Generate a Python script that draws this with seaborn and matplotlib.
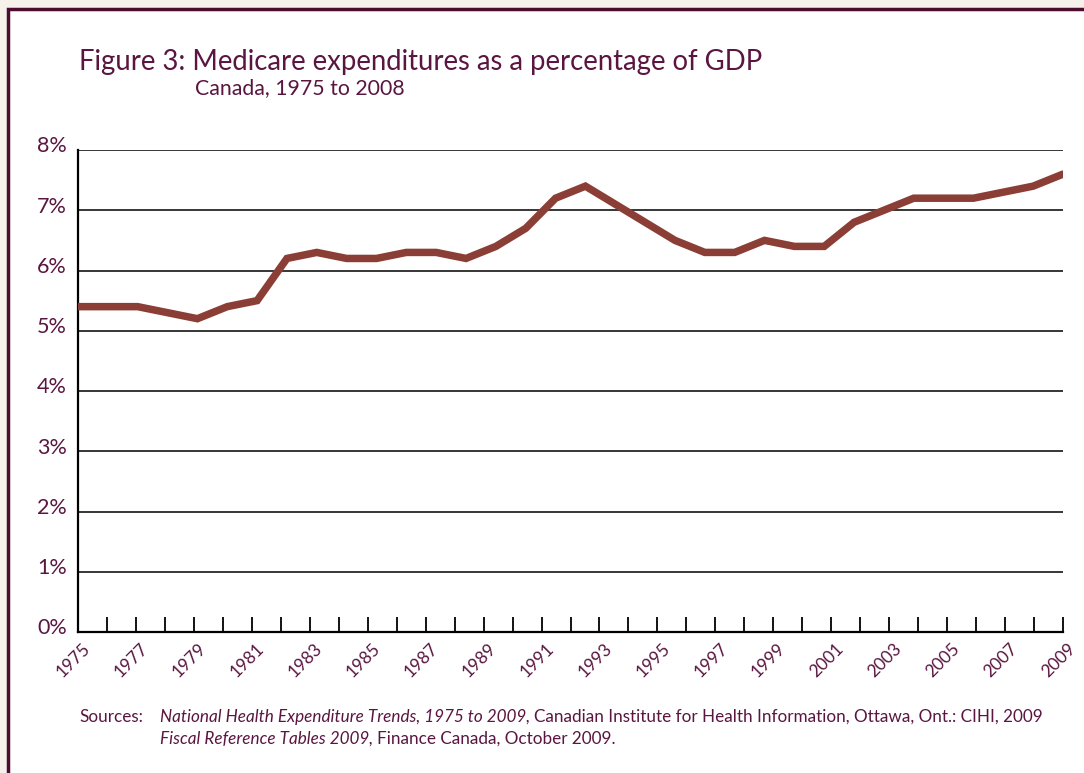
import numpy as np
import pandas as pd
import matplotlib
matplotlib.use('Agg')
import matplotlib.pyplot as plt
import matplotlib.transforms as mtransforms
from matplotlib.patches import Rectangle
import seaborn as sns

# Medicare expenditures as % of GDP, Canada 1975-2008
years = list(range(1975, 2009))
pct_gdp = [5.4, 5.4, 5.4, 5.3, 5.2, 5.4, 5.5, 6.2, 6.3, 6.2,
           6.2, 6.3, 6.3, 6.2, 6.4, 6.7, 7.2, 7.4, 7.1, 6.8,
           6.5, 6.3, 6.3, 6.5, 6.4, 6.4, 6.8, 7.0, 7.2, 7.2,
           7.2, 7.3, 7.4, 7.6]
tick_years = [str(y) for y in range(1975, 2010)]
y_ticks = [0, 1, 2, 3, 4, 5, 6, 7, 8]
y_labels = [f'{v}%' for v in y_ticks]

df = pd.DataFrame({'year': years, 'pct': pct_gdp})

text_col = '#5a1640'
line_col = '#8b3e36'
border_col = '#4e0b30'

sns.set_theme(style='white')
plt.rcParams['font.family'] = ['Lato', 'DejaVu Sans']

fig = plt.figure(figsize=(10.84, 7.73), dpi=100)
fig.patch.set_facecolor('#f6f1ea')

# white panel with maroon frame
W, H = 1084, 773
fig.patches.append(Rectangle((8 / W, -0.05), 1.1, (H - 9) / H + 0.05,
                             transform=fig.transFigure, facecolor='white',
                             edgecolor=border_col, linewidth=2.5, zorder=-1))

ax = fig.add_axes([78 / W, 1 - 632 / H, (1063 - 78) / W, (632 - 150) / H])
ax.set_facecolor('white')

sns.lineplot(data=df, x='year', y='pct', ax=ax, color=line_col,
             linewidth=5.4, solid_joinstyle='miter', zorder=3)

ax.set_xlim(years[0], years[-1])
ax.set_ylim(0, 8)
ax.set_xticks(np.linspace(years[0], years[-1], len(tick_years)))
ax.set_xticklabels([t if i % 2 == 0 else '' for i, t in enumerate(tick_years)],
                   rotation=45, ha='right', rotation_mode='anchor',
                   fontsize=12.5, color=text_col)
ax.set_yticks(y_ticks)
ax.set_yticklabels(y_labels, fontsize=15.5, color=text_col)

ax.yaxis.grid(True, color='black', linewidth=1.1)
ax.xaxis.grid(False)
for s in ['top', 'right']:
    ax.spines[s].set_visible(False)
for s in ['left', 'bottom']:
    ax.spines[s].set_color('black')
    ax.spines[s].set_linewidth(1.6)

ax.tick_params(axis='x', direction='in', length=11, width=1.3, color='black',
               bottom=True, pad=6)
ax.tick_params(axis='y', length=0, pad=8)

# y labels sit a bit above their gridlines
offset = mtransforms.ScaledTranslation(0, 4 / 72, fig.dpi_scale_trans)
for lab in ax.get_yticklabels():
    lab.set_transform(lab.get_transform() + offset)
xoff = mtransforms.ScaledTranslation(3 / 72, 0, fig.dpi_scale_trans)
for lab in ax.get_xticklabels():
    lab.set_transform(lab.get_transform() + xoff)

ax.set_xlabel('')
ax.set_ylabel('')

fig.text(79 / W, 1 - 62 / H, 'Figure 3: Medicare expenditures as a percentage of GDP',
         fontsize=19.8, color=text_col, va='center', ha='left')
fig.text(195 / W, 1 - 88 / H, 'Canada, 1975 to 2008',
         fontsize=15.3, color=text_col, va='center', ha='left')

fs = 12.3
fig.text(79 / W, 1 - 717 / H, 'Sources:', fontsize=fs, color=text_col,
         va='center', ha='left')
t1 = fig.text(160 / W, 1 - 717 / H, 'National Health Expenditure Trends, 1975 to 2009,',
              fontsize=fs, color=text_col, va='center', ha='left', style='italic')
fig.canvas.draw()
bb = t1.get_window_extent()
fig.text(bb.x1 / W + 4 / W, 1 - 717 / H,
         'Canadian Institute for Health Information, Ottawa, Ont.: CIHI, 2009',
         fontsize=fs, color=text_col, va='center', ha='left')
t2 = fig.text(160 / W, 1 - 739 / H, 'Fiscal Reference Tables 2009,',
              fontsize=fs, color=text_col, va='center', ha='left', style='italic')
fig.canvas.draw()
bb2 = t2.get_window_extent()
fig.text(bb2.x1 / W + 4 / W, 1 - 739 / H, 'Finance Canada, October 2009.',
         fontsize=fs, color=text_col, va='center', ha='left')

fig.savefig('out.png', dpi=100, facecolor=fig.get_facecolor())
